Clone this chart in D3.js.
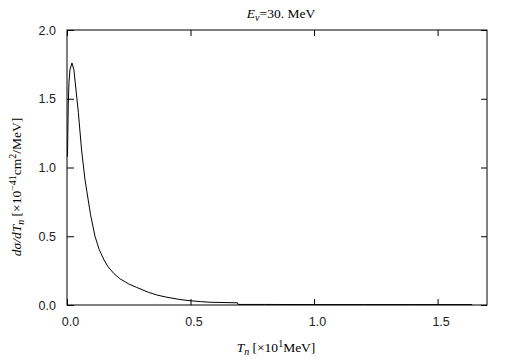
<!DOCTYPE html>
<html lang="en">
<head>
    <meta charset="UTF-8">
    <title>E_nu = 30 MeV</title>
    <script src="https://d3js.org/d3.v7.min.js"></script>
    <style>
        body { margin: 0; background: #fff; }
        svg { display: block; }
        .tick text { font-family: "Liberation Sans", Arial, sans-serif; font-size: 12.5px; fill: #222; }
        .lbl { font-family: "Liberation Serif", "Times New Roman", serif; font-size: 13.5px; fill: #000; }
    </style>
</head>
<body>
    <div id="chart"></div>

    <script>
        const tn = [0.002, 0.005, 0.008, 0.012, 0.020, 0.028, 0.046, 0.059, 0.073,
                    0.080, 0.095, 0.113, 0.130, 0.150, 0.166, 0.190, 0.215, 0.250, 0.282,
                    0.330, 0.363, 0.400, 0.457, 0.498, 0.540, 0.579, 0.690, 0.692, 0.800,
                    1.000, 1.200, 1.400, 1.640];
        const dsig = [1.08, 1.45, 1.62, 1.71, 1.76, 1.71, 1.40, 1.127, 0.909,
                      0.830, 0.66, 0.502, 0.405, 0.327, 0.279, 0.228, 0.19, 0.153, 0.128,
                      0.092, 0.073, 0.058, 0.040, 0.031, 0.025, 0.020, 0.016, 0.004, 0.004,
                      0.003, 0.003, 0.003, 0.003];
        const xTicks = [0.0, 0.5, 1.0, 1.5];
        const yTicks = [0.0, 0.5, 1.0, 1.5, 2.0];

        const width = 505, height = 361;
        const mLeft = 67, mRight = 487, mTop = 30, mBottom = 305;

        const svg = d3.select("#chart").append("svg")
            .attr("width", width)
            .attr("height", height);

        const x = d3.scaleLinear().domain([0, 1.7]).range([mLeft, mRight]);
        const y = d3.scaleLinear().domain([0, 2]).range([mBottom, mTop]);

        // axes, ticks pointing inward
        const xAxis = svg.append("g")
            .attr("transform", `translate(0,${mBottom})`)
            .call(d3.axisBottom(x).tickValues(xTicks).tickFormat(d3.format(".1f"))
                .tickSize(-6).tickPadding(12));
        xAxis.selectAll(".tick text").attr("dx", 3);

        svg.append("g")
            .attr("transform", `translate(${mLeft},0)`)
            .call(d3.axisLeft(y).tickValues(yTicks).tickFormat(d3.format(".1f"))
                .tickSize(-7).tickPadding(11));

        svg.append("g")
            .attr("transform", `translate(0,${mTop})`)
            .call(d3.axisTop(x).tickValues(xTicks).tickFormat("").tickSize(-6));

        svg.append("g")
            .attr("transform", `translate(${mRight},0)`)
            .call(d3.axisRight(y).tickValues(yTicks).tickFormat("").tickSize(-6));

        svg.selectAll(".domain").remove();
        svg.selectAll(".tick line").attr("stroke", "#000");

        svg.append("rect")
            .attr("x", mLeft).attr("y", mTop)
            .attr("width", mRight - mLeft).attr("height", mBottom - mTop)
            .attr("fill", "none").attr("stroke", "#000");

        // curve
        const pts = tn.map((t, i) => [t, dsig[i]]);
        svg.append("path")
            .datum(pts)
            .attr("fill", "none")
            .attr("stroke", "#000")
            .attr("stroke-width", 1)
            .attr("d", d3.line().x(d => x(d[0])).y(d => y(d[1])));

        // title
        const title = svg.append("text").attr("class", "lbl")
            .attr("x", 281).attr("y", 18).attr("text-anchor", "middle");
        title.append("tspan").attr("font-style", "italic").text("E");
        title.append("tspan").attr("font-size", "10px").attr("dy", 3).attr("font-style", "italic").text("ν");
        title.append("tspan").attr("dy", -3).text("=30. MeV");

        // x label
        const xl = svg.append("text").attr("class", "lbl")
            .attr("x", 276).attr("y", 352).attr("text-anchor", "middle");
        xl.append("tspan").attr("font-style", "italic").text("T");
        xl.append("tspan").attr("font-size", "10px").attr("dy", 3).attr("font-style", "italic").text("n");
        xl.append("tspan").attr("dy", -3).text(" [×10");
        xl.append("tspan").attr("font-size", "10px").attr("dy", -5).text("1");
        xl.append("tspan").attr("dy", 5).text("MeV]");

        // y label
        const yl = svg.append("text").attr("class", "lbl")
            .attr("transform", "translate(21,187) rotate(-90)")
            .attr("text-anchor", "middle");
        yl.append("tspan").attr("font-style", "italic").text("dσ/dT");
        yl.append("tspan").attr("font-size", "10px").attr("dy", 3).attr("font-style", "italic").text("n");
        yl.append("tspan").attr("dy", -3).text(" [×10");
        yl.append("tspan").attr("font-size", "10px").attr("dy", -5).text("−41");
        yl.append("tspan").attr("dy", 5).text("cm");
        yl.append("tspan").attr("font-size", "10px").attr("dy", -5).text("2");
        yl.append("tspan").attr("dy", 5).text("/MeV]");
    </script>
</body>
</html>
